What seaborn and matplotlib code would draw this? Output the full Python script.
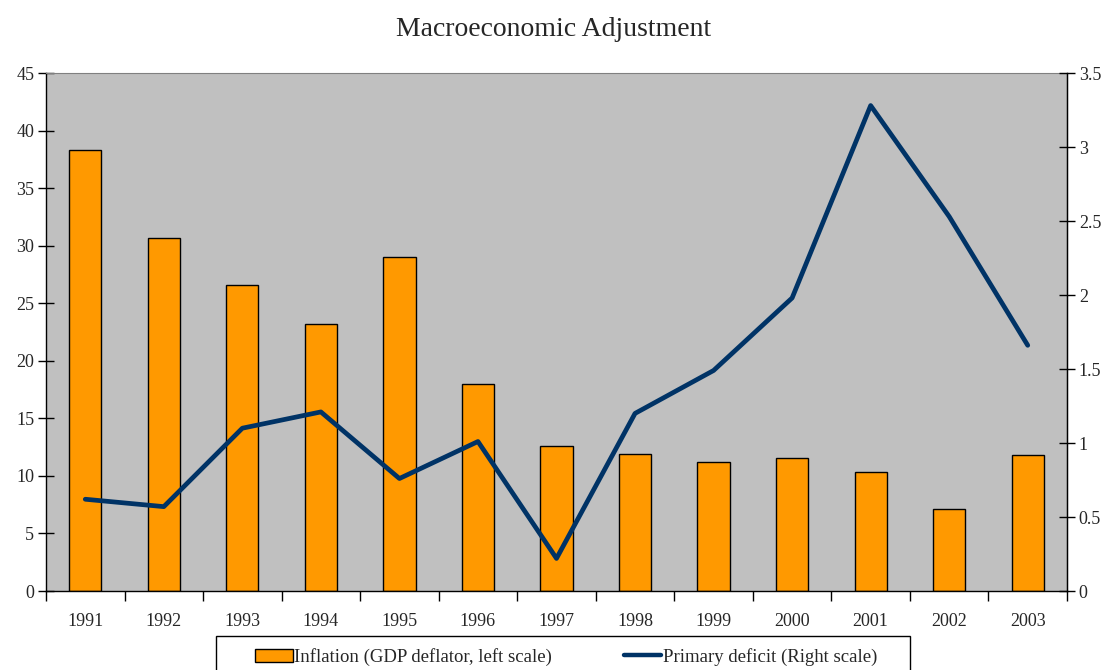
import numpy as np
import pandas as pd
import matplotlib
matplotlib.use("Agg")
import matplotlib.pyplot as plt
import matplotlib.patches as mpatches
import seaborn as sns

years = ["1991", "1992", "1993", "1994", "1995", "1996", "1997",
         "1998", "1999", "2000", "2001", "2002", "2003"]
inflation = [38.3, 30.7, 26.6, 23.2, 29.0, 18.0, 12.6, 11.9, 11.2, 11.55, 10.3, 7.1, 11.8]
primary_deficit = [0.62, 0.57, 1.10, 1.21, 0.76, 1.01, 0.22, 1.20, 1.49, 1.98, 3.28, 2.53, 1.66]

df = pd.DataFrame({"year": years, "inflation": inflation, "deficit": primary_deficit})
df["pos"] = np.arange(len(years))

sns.set_style("white")
plt.rcParams["font.family"] = ["Liberation Serif", "DejaVu Serif"]

fig = plt.figure(figsize=(11.07, 6.70), dpi=100)
ax = fig.add_axes([46 / 1107, 79 / 670, 1021 / 1107, 518 / 670])
ax.set_facecolor("#C0C0C0")

sns.barplot(data=df, x="year", y="inflation", color="#FF9900", width=0.41,
            edgecolor="black", linewidth=1.0, saturation=1, ax=ax,
            label="Inflation (GDP deflator, left scale)")
ax.set_xlim(-0.5, len(years) - 0.5)
ax.set_ylim(0, 45)
ax.set_yticks(range(0, 50, 5))
ax.set_xlabel("")
ax.set_ylabel("")
ax.set_xticks(np.arange(len(years)))
ax.set_xticklabels(years, fontsize=13)
ax.tick_params(axis="x", which="major", length=0, pad=16)
ax.set_xticks(np.arange(len(years) + 1) - 0.5, minor=True)
ax.tick_params(axis="x", which="minor", bottom=True, length=7, width=1,
               direction="out", color="black")
ax.tick_params(axis="y", left=True, labelsize=13, length=11, width=1,
               direction="inout", color="black", pad=3)

for side in ["left", "bottom"]:
    ax.spines[side].set_color("black")
    ax.spines[side].set_linewidth(1)
ax.spines["top"].set_color("#808080")
ax.spines["right"].set_color("black")

ax2 = ax.twinx()
sns.lineplot(data=df, x="pos", y="deficit", color="#003366", linewidth=3.4, ax=ax2,
             label="Primary deficit (Right scale)", legend=False)
ax2.set_ylim(0, 3.5)
ax2.set_yticks(np.arange(0, 3.6, 0.5))
ax2.set_yticklabels(["0", "0.5", "1", "1.5", "2", "2.5", "3", "3.5"])
ax2.set_ylabel("")
ax2.set_xlabel("")
ax2.tick_params(axis="y", right=True, labelsize=13, length=11, width=1,
                direction="inout", color="black", pad=3)
ax2.spines["right"].set_color("black")
ax2.spines["right"].set_linewidth(1)
ax2.spines["top"].set_visible(False)
ax2.spines["left"].set_visible(False)
ax2.spines["bottom"].set_visible(False)
ax2.set_xlim(-0.5, len(years) - 0.5)

fig.text(0.5, 1 - 29 / 670, "Macroeconomic Adjustment", fontsize=20,
         ha="center", va="center")

# legend box (runs off the bottom edge like the original)
fig.patches.append(mpatches.Rectangle((216 / 1107, -0.02), 694 / 1107, 0.02 + 34 / 670,
                                      transform=fig.transFigure, facecolor="white",
                                      edgecolor="black", linewidth=1))

h1, l1 = ax.get_legend_handles_labels()
h2, l2 = ax2.get_legend_handles_labels()
if ax.get_legend() is not None:
    ax.get_legend().remove()
leg = fig.legend(h1 + h2, l1 + l2, loc="center", bbox_to_anchor=(0.5115, 1 - 657 / 670),
                 ncol=2, fontsize=13.5, frameon=False,
                 handlelength=2.0, handleheight=0.65, handletextpad=0.1,
                 columnspacing=3.8, borderpad=0, borderaxespad=0)
for h in leg.legend_handles:
    if hasattr(h, "set_linewidth") and not isinstance(h, mpatches.Rectangle):
        h.set_linewidth(3.2)

fig.savefig("out.png", dpi=100)
